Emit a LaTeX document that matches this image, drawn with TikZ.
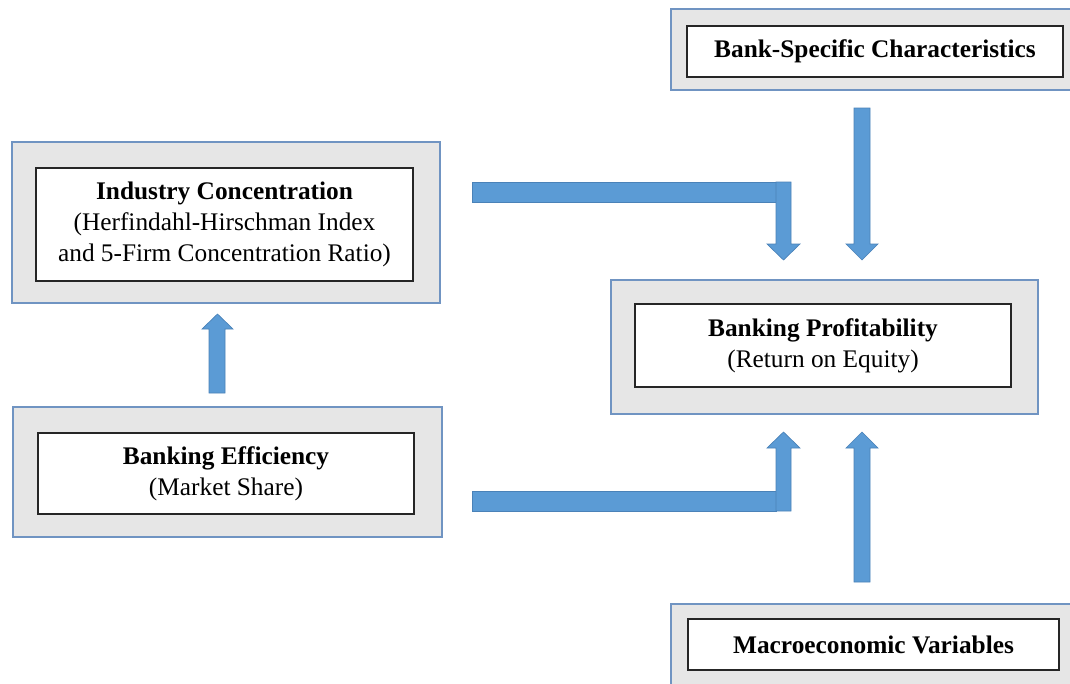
\documentclass[tikz,border=0pt]{standalone}
\usepackage{fontspec}
\setmainfont{Liberation Serif}
\usepackage{xcolor}
\usetikzlibrary{positioning}

\definecolor{boxgray}{HTML}{E6E6E6}
\definecolor{frameblue}{HTML}{7094C2}
\definecolor{arrowblue}{HTML}{5B9BD5}
\definecolor{arrowedge}{HTML}{4A82B8}

\tikzset{
  outerbox/.style={draw=frameblue, line width=1.1pt, fill=boxgray, inner sep=0pt},
  innerbox/.style={draw=black!85, line width=1.1pt, fill=white, align=center,
    inner sep=0pt, font=\fontsize{19}{23.5}\selectfont},
  blockarrow/.style={fill=arrowblue, draw=arrowedge, line width=0.5pt, line join=miter},
}

\begin{document}
\begin{tikzpicture}[x=0.75pt,y=-0.75pt]
\clip (0,0) rectangle (1070,683);
\fill[white] (0,0) rectangle (1070,683);

% grey frames
\node[outerbox, minimum width=300pt, minimum height=60.75pt] (specframe) at (871,49.5) {};
\node[outerbox, minimum width=321pt, minimum height=120.75pt] (concframe) at (226,222.5) {};
\node[outerbox, minimum width=321.75pt, minimum height=97.5pt] (effframe) at (227.5,472) {};
\node[outerbox, minimum width=320.25pt, minimum height=100.5pt] (profframe) at (824.5,347) {};
\node[outerbox, minimum width=300pt, minimum height=72pt] (macroframe) at (871,652) {};

% white boxes with the texts
\node[innerbox, minimum width=282pt, minimum height=38.25pt] (spec) at (875,51.5)
  {\textbf{Bank-Specific Characteristics}};
\node[innerbox, minimum width=282.75pt, minimum height=84.75pt] (conc) at (224.5,224.5)
  {\textbf{Industry Concentration}\\(Herfindahl-Hirschman Index\\and 5-Firm Concentration Ratio)};
\node[innerbox, minimum width=282pt, minimum height=60.75pt] (eff) at (226,473.5)
  {\textbf{Banking Efficiency}\\(Market Share)};
\node[innerbox, minimum width=282pt, minimum height=62.25pt] (prof) at (823,345.5)
  {\textbf{Banking Profitability}\\(Return on Equity)};
\node[innerbox, minimum width=278.25pt, minimum height=38.25pt] (macro) at (873.5,644.5)
  {\textbf{Macroeconomic Variables}};

% block arrows
\draw[blockarrow] (472,182) rectangle (776,202);
\draw[blockarrow] (776,182) -- (791,182) -- (791,244) -- (800,244) -- (783.5,260)
  -- (767,244) -- (776,244) -- cycle;
\draw[blockarrow] (854,108) -- (870,108) -- (870,244) -- (878,244) -- (862,260)
  -- (846,244) -- (854,244) -- cycle;
\draw[blockarrow] (472,491) rectangle (776,511);
\draw[blockarrow] (776,511) -- (776,448) -- (767,448) -- (783.5,432) -- (800,448)
  -- (791,448) -- (791,511) -- cycle;
\draw[blockarrow] (854,582) -- (854,448) -- (846,448) -- (862,432) -- (878,448)
  -- (870,448) -- (870,582) -- cycle;
\draw[blockarrow] (209,393) -- (209,329) -- (202,329) -- (217.5,314) -- (233,329)
  -- (225,329) -- (225,393) -- cycle;
\end{tikzpicture}
\end{document}
